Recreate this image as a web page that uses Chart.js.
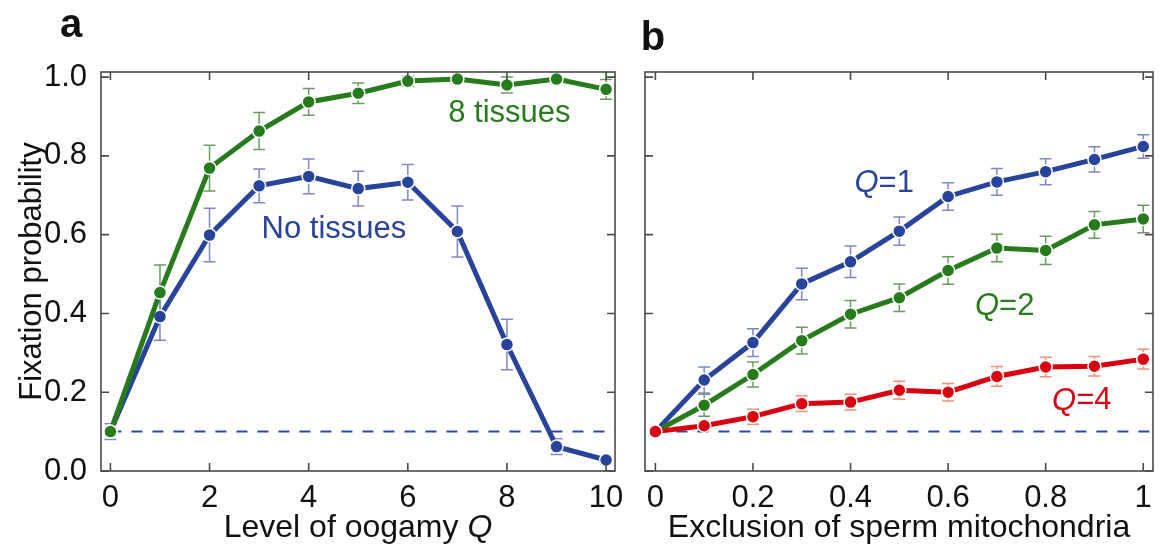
<!DOCTYPE html>
<html>
<head>
<meta charset="utf-8">
<script src="https://cdn.jsdelivr.net/npm/chart.js@4.4.1/dist/chart.umd.min.js"></script>
<style>
  html, body { margin: 0; padding: 0; background: #ffffff; }
  #wrap { position: relative; width: 1161px; height: 546px; overflow: hidden; }
  .panel { position: absolute; top: 0; height: 546px; }
  #panelA { left: 0; width: 630px; }
  #panelB { left: 630px; width: 531px; }
</style>
</head>
<body>
<div id="wrap">
  <div class="panel" id="panelA"><canvas id="chartA" width="630" height="546"></canvas></div>
  <div class="panel" id="panelB"><canvas id="chartB" width="531" height="546"></canvas></div>
</div>
<script>
// ---- panel a: fixation probability vs level of oogamy Q
const oogamyLevels = [0, 1, 2, 3, 4, 5, 6, 7, 8, 9, 10];
const tissuesMean = [0.10, 0.453, 0.769, 0.863, 0.937, 0.959, 0.99, 0.995, 0.98, 0.995, 0.969];
const tissuesErr = [0.01, 0.07, 0.058, 0.047, 0.034, 0.026, 0.013, 0.01, 0.02, 0.008, 0.025];
const noTissuesMean = [0.10, 0.392, 0.599, 0.724, 0.748, 0.717, 0.733, 0.608, 0.321, 0.062, 0.028];
const noTissuesErr = [0.02, 0.06, 0.068, 0.043, 0.044, 0.044, 0.045, 0.065, 0.064, 0.02, 0.01];

// ---- panel b: fixation probability vs exclusion of sperm mitochondria
const exclusionLevels = [0, 0.1, 0.2, 0.3, 0.4, 0.5, 0.6, 0.7, 0.8, 0.9, 1];
const q1Mean = [0.10, 0.231, 0.326, 0.475, 0.531, 0.609, 0.697, 0.734, 0.76, 0.791, 0.824];
const q1Err = [0.005, 0.033, 0.035, 0.04, 0.04, 0.036, 0.035, 0.034, 0.033, 0.032, 0.03];
const q2Mean = [0.10, 0.167, 0.245, 0.331, 0.398, 0.44, 0.509, 0.566, 0.56, 0.625, 0.64];
const q2Err = [0.005, 0.028, 0.032, 0.034, 0.035, 0.035, 0.035, 0.035, 0.036, 0.034, 0.035];
const q4Mean = [0.10, 0.115, 0.138, 0.171, 0.175, 0.205, 0.2, 0.24, 0.264, 0.266, 0.284];
const q4Err = [0.005, 0.012, 0.019, 0.02, 0.02, 0.023, 0.022, 0.025, 0.025, 0.025, 0.025];

// ---- ticks
const oogamyTicks = [0, 2, 4, 6, 8, 10];
const exclusionTicks = [0, 0.2, 0.4, 0.6, 0.8, 1];
const exclusionTickLabels = ['0', '0.2', '0.4', '0.6', '0.8', '1'];
const probabilityTicks = [0, 0.2, 0.4, 0.6, 0.8, 1.0];
const neutralLevel = 0.1; // dashed reference line

const FONT = '"Liberation Sans", Arial, Helvetica, sans-serif';
const BLUE = '#27439a', BLUE_ERR = '#7f86c8';
const GREEN = '#287b1c', GREEN_ERR = '#6a9c62';
const RED = '#d8000f', RED_ERR = '#f2916f';

function toPoints(xs, ys) {
  return xs.map((x, i) => ({ x: x, y: ys[i] }));
}

function lineSet(label, xs, ys, errs, color, errColor) {
  return {
    label: label,
    data: toPoints(xs, ys),
    errors: errs,
    errorColor: errColor,
    borderColor: color,
    backgroundColor: color,
    borderWidth: 5,
    tension: 0,
    pointRadius: 6.5,
    pointBackgroundColor: color,
    pointBorderColor: '#ffffff',
    pointBorderWidth: 1.5,
    clip: false
  };
}

// draws text made of several runs (some italic), centred on cx
function drawRuns(ctx, runs, cx, cy, size, color, baseline) {
  ctx.save();
  ctx.fillStyle = color;
  ctx.textBaseline = baseline || 'middle';
  ctx.textAlign = 'left';
  let total = 0;
  runs.forEach(r => {
    ctx.font = (r.italic ? 'italic ' : '') + size + 'px ' + FONT;
    total += ctx.measureText(r.t).width;
  });
  let x = cx - total / 2;
  runs.forEach(r => {
    ctx.font = (r.italic ? 'italic ' : '') + size + 'px ' + FONT;
    ctx.fillText(r.t, x, cy);
    x += ctx.measureText(r.t).width;
  });
  ctx.restore();
}

// vertical error bars under the lines
const errorBars = {
  id: 'errorBars',
  beforeDatasetsDraw(chart) {
    const { ctx, scales: { y } } = chart;
    chart.data.datasets.forEach((ds, i) => {
      if (!ds.errors) return;
      const meta = chart.getDatasetMeta(i);
      ctx.save();
      ctx.strokeStyle = ds.errorColor;
      ctx.lineWidth = 1.5;
      meta.data.forEach((pt, j) => {
        const v = ds.data[j].y, e = ds.errors[j];
        const top = y.getPixelForValue(v + e);
        const bot = y.getPixelForValue(v - e);
        const cap = 6;
        ctx.beginPath();
        ctx.moveTo(pt.x, top); ctx.lineTo(pt.x, bot);
        ctx.moveTo(pt.x - cap, top); ctx.lineTo(pt.x + cap, top);
        ctx.moveTo(pt.x - cap, bot); ctx.lineTo(pt.x + cap, bot);
        ctx.stroke();
      });
      ctx.restore();
    });
  }
};

// dashed neutral line at the initial frequency
const neutralLine = {
  id: 'neutralLine',
  beforeDatasetsDraw(chart) {
    const { ctx, chartArea: a, scales: { x, y } } = chart;
    const py = y.getPixelForValue(neutralLevel);
    ctx.save();
    ctx.strokeStyle = '#2a4aa8';
    ctx.lineWidth = 2;
    ctx.setLineDash([11, 10]);
    ctx.beginPath();
    ctx.moveTo(x.getPixelForValue(0), py);
    ctx.lineTo(a.right, py);
    ctx.stroke();
    ctx.restore();
  }
};

// box frame with inward ticks on all four sides, plus captions and notes
const frameAndText = {
  id: 'frameAndText',
  afterDraw(chart, args, opts) {
    const { ctx, chartArea: a, scales: { x, y } } = chart;
    ctx.save();
    ctx.strokeStyle = '#4a4a4a';
    ctx.lineWidth = 1.6;
    ctx.strokeRect(a.left, a.top, a.right - a.left, a.bottom - a.top);
    const len = 8;
    ctx.beginPath();
    opts.xTicks.forEach(v => {
      const px = x.getPixelForValue(v);
      ctx.moveTo(px, a.bottom); ctx.lineTo(px, a.bottom - len);
      ctx.moveTo(px, a.top); ctx.lineTo(px, a.top + len);
    });
    probabilityTicks.forEach(v => {
      const py = y.getPixelForValue(v);
      ctx.moveTo(a.left, py); ctx.lineTo(a.left + len, py);
      ctx.moveTo(a.right, py); ctx.lineTo(a.right - len, py);
    });
    ctx.stroke();
    ctx.restore();

    // panel letter
    ctx.save();
    ctx.font = 'bold 40px ' + FONT;
    ctx.fillStyle = '#111';
    ctx.textAlign = 'center';
    ctx.textBaseline = 'alphabetic';
    ctx.fillText(opts.letter.text, opts.letter.x, opts.letter.y);
    ctx.restore();

    // x axis caption
    drawRuns(ctx, opts.caption, (a.left + a.right) / 2, 537, 32, '#111', 'alphabetic');

    // in-plot labels
    opts.notes.forEach(n => {
      drawRuns(ctx, n.runs, x.getPixelForValue(n.x), y.getPixelForValue(n.y), 31, n.color);
    });
  }
};

Chart.register(errorBars, neutralLine, frameAndText);

const yScale = {
  type: 'linear',
  min: 0,
  max: 1.013,
  grid: { display: false },
  border: { display: false },
  afterBuildTicks: s => { s.ticks = probabilityTicks.map(v => ({ value: v })); }
};

// ---- chart a
new Chart(document.getElementById('chartA'), {
  type: 'line',
  data: {
    datasets: [
      lineSet('8 tissues', oogamyLevels, tissuesMean, tissuesErr, GREEN, GREEN_ERR),
      lineSet('No tissues', oogamyLevels, noTissuesMean, noTissuesErr, BLUE, BLUE_ERR)
    ]
  },
  options: {
    responsive: false,
    animation: false,
    layout: { padding: { left: 0, right: 15, top: 72, bottom: 0 } },
    scales: {
      x: {
        type: 'linear',
        min: -0.19,
        max: 10.18,
        grid: { display: false },
        border: { display: false },
        afterBuildTicks: s => { s.ticks = oogamyTicks.map(v => ({ value: v })); },
        afterFit: s => { s.height = 75; },
        ticks: { padding: 1, color: '#111', font: { family: FONT, size: 31 }, callback: v => String(v) }
      },
      y: Object.assign({}, yScale, {
        afterFit: s => { s.width = 101; },
        ticks: { padding: 6, color: '#111', font: { family: FONT, size: 31 }, callback: v => v.toFixed(1) },
        title: {
          display: true,
          text: 'Fixation probability',
          color: '#111',
          font: { family: FONT, size: 31 },
          padding: { top: 14, bottom: 0 }
        }
      })
    },
    plugins: {
      legend: { display: false },
      tooltip: { enabled: false },
      frameAndText: {
        xTicks: oogamyTicks,
        letter: { text: 'a', x: 71, y: 37 },
        caption: [{ t: 'Level of oogamy ' }, { t: 'Q', italic: true }],
        notes: [
          { runs: [{ t: '8 tissues' }], x: 8.05, y: 0.909, color: GREEN },
          { runs: [{ t: 'No tissues' }], x: 4.51, y: 0.612, color: BLUE }
        ]
      }
    }
  }
});

// ---- chart b
new Chart(document.getElementById('chartB'), {
  type: 'line',
  data: {
    datasets: [
      lineSet('Q=4', exclusionLevels, q4Mean, q4Err, RED, RED_ERR),
      lineSet('Q=2', exclusionLevels, q2Mean, q2Err, GREEN, GREEN_ERR),
      lineSet('Q=1', exclusionLevels, q1Mean, q1Err, BLUE, BLUE_ERR)
    ]
  },
  options: {
    responsive: false,
    animation: false,
    layout: { padding: { left: 15, right: 3, top: 72, bottom: 0 } },
    scales: {
      x: {
        type: 'linear',
        min: -0.0213,
        max: 1.02,
        grid: { display: false },
        border: { display: false },
        afterBuildTicks: s => { s.ticks = exclusionTicks.map(v => ({ value: v })); },
        afterFit: s => { s.height = 75; },
        ticks: {
          padding: 1,
          color: '#111',
          font: { family: FONT, size: 31 },
          callback: (v, i) => exclusionTickLabels[i]
        }
      },
      y: Object.assign({}, yScale, { display: false })
    },
    plugins: {
      legend: { display: false },
      tooltip: { enabled: false },
      frameAndText: {
        xTicks: exclusionTicks,
        letter: { text: 'b', x: 23, y: 50 },
        caption: [{ t: 'Exclusion of sperm mitochondria' }],
        notes: [
          { runs: [{ t: 'Q', italic: true }, { t: '=1' }], x: 0.469, y: 0.731, color: BLUE },
          { runs: [{ t: 'Q', italic: true }, { t: '=2' }], x: 0.716, y: 0.417, color: GREEN },
          { runs: [{ t: 'Q', italic: true }, { t: '=4' }], x: 0.874, y: 0.178, color: RED }
        ]
      }
    }
  }
});
</script>
</body>
</html>
